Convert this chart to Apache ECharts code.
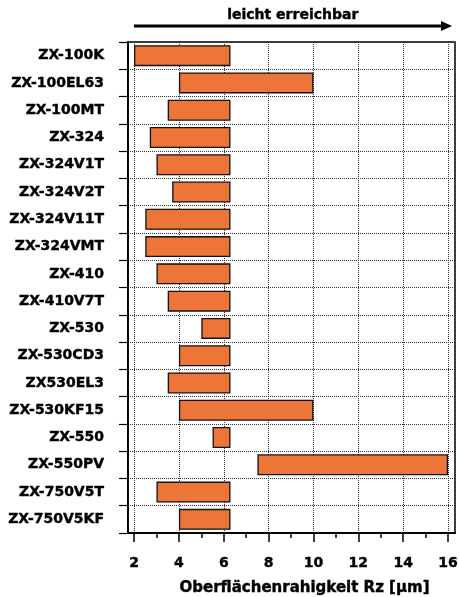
<!DOCTYPE html>
<html>
<head>
<meta charset="utf-8">
<script src="https://cdn.jsdelivr.net/npm/echarts@6/dist/echarts.min.js"></script>
<style>
  html, body { margin: 0; padding: 0; background: #fff; }
  #chart { width: 459px; height: 597px; }
</style>
</head>
<body>
<div id="chart"></div>
<script>
// Werkstoffe (von oben nach unten)
var categories = [
  "ZX-100K", "ZX-100EL63", "ZX-100MT", "ZX-324", "ZX-324V1T", "ZX-324V2T",
  "ZX-324V11T", "ZX-324VMT", "ZX-410", "ZX-410V7T", "ZX-530", "ZX-530CD3",
  "ZX530EL3", "ZX-530KF15", "ZX-550", "ZX-550PV", "ZX-750V5T", "ZX-750V5KF"
];
// Rz-Bereich: Anfang und Ende
var rangeStart = [2.0, 4.0, 3.5, 2.7, 3.0, 3.7, 2.5, 2.5, 3.0, 3.5, 5.0, 4.0, 3.5, 4.0, 5.5, 7.5, 3.0, 4.0];
var rangeEnd   = [6.3, 10.0, 6.3, 6.3, 6.3, 6.3, 6.3, 6.3, 6.3, 6.3, 6.3, 6.3, 6.3, 10.0, 6.3, 16.0, 6.3, 6.3];
var xTicks = [2, 4, 6, 8, 10, 12, 14, 16];
var xMinorTicks = [3, 5, 7, 9, 11, 13, 15];
var xTitle = "Oberflächenrahigkeit Rz [µm]";
var topLabel = "leicht erreichbar";

var spans = [];
for (var i = 0; i < rangeStart.length; i++) {
  spans.push(+(rangeEnd[i] - rangeStart[i]).toFixed(2));
}

var myChart = echarts.init(document.getElementById("chart"));
var font = "DejaVu Sans";

var option = {
  backgroundColor: "#fff",
  animation: false,
  textStyle: { fontFamily: font },
  grid: {
    left: 128,
    right: 4,
    top: 42,
    bottom: 64,
    containLabel: false,
    outerBoundsMode: "none",
    show: true,
    borderColor: "#000",
    borderWidth: 1.5
  },
  graphic: [
    {
      type: "text",
      left: 227,
      top: 8,
      style: {
        text: topLabel,
        font: "bold 14px 'DejaVu Sans'",
        fill: "#000",
        stroke: "#000",
        lineWidth: 0.4
      }
    },
    {
      type: "line",
      shape: { x1: 134, y1: 26, x2: 444, y2: 26 },
      style: { stroke: "#000", lineWidth: 3 }
    },
    {
      type: "polygon",
      shape: { points: [[441, 21], [452, 26], [441, 31]] },
      style: { fill: "#000" }
    }
  ],
  xAxis: [
    {
      type: "value",
      position: "bottom",
      min: 1.73,
      max: 16.31,
      name: xTitle,
      nameLocation: "middle",
      nameGap: 48,
      nameTextStyle: {
        color: "#000",
        fontWeight: "bold",
        fontSize: 15,
        fontFamily: font,
        textBorderColor: "#000",
        textBorderWidth: 0.4,
        padding: [0, 0, 0, 26]
      },
      axisLine: { show: true, lineStyle: { color: "#000", width: 2 } },
      axisTick: {
        show: true,
        length: 9,
        customValues: xTicks,
        lineStyle: { color: "#000", width: 1.5 }
      },
      axisLabel: {
        customValues: xTicks,
        margin: 23,
        color: "#000",
        fontWeight: "bold",
        fontSize: 14,
        fontFamily: font,
        textBorderColor: "#000",
        textBorderWidth: 0.4
      },
      splitLine: {
        show: true,
        lineStyle: { color: "#333", type: "dotted", width: 1 }
      }
    },
    {
      type: "value",
      position: "bottom",
      min: 1.73,
      max: 16.31,
      axisLine: { show: false },
      axisTick: {
        show: true,
        length: 5,
        customValues: xMinorTicks,
        lineStyle: { color: "#000", width: 1.5 }
      },
      axisLabel: { show: false },
      splitLine: { show: false }
    }
  ],
  yAxis: {
    type: "category",
    inverse: true,
    data: categories,
    axisLine: { show: true, lineStyle: { color: "#000", width: 2 } },
    axisTick: { show: true, length: 9, lineStyle: { color: "#000", width: 1.2 } },
    axisLabel: {
      margin: 24,
      color: "#000",
      fontWeight: "bold",
      fontSize: 14,
      fontFamily: font,
      textBorderColor: "#000",
      textBorderWidth: 0.4,
      padding: [4, 0, 0, 0]
    },
    splitLine: {
      show: true,
      lineStyle: { color: "#333", type: "dotted", width: 1 }
    }
  },
  series: [
    {
      name: "base",
      type: "bar",
      stack: "rz",
      barWidth: "77%",
      silent: true,
      itemStyle: { color: "transparent" },
      data: rangeStart
    },
    {
      name: "Rz",
      type: "bar",
      stack: "rz",
      barWidth: "77%",
      itemStyle: {
        color: "#ED7538",
        borderColor: "#111",
        borderWidth: 1.3
      },
      data: spans
    }
  ]
};

myChart.setOption(option);
</script>
</body>
</html>
